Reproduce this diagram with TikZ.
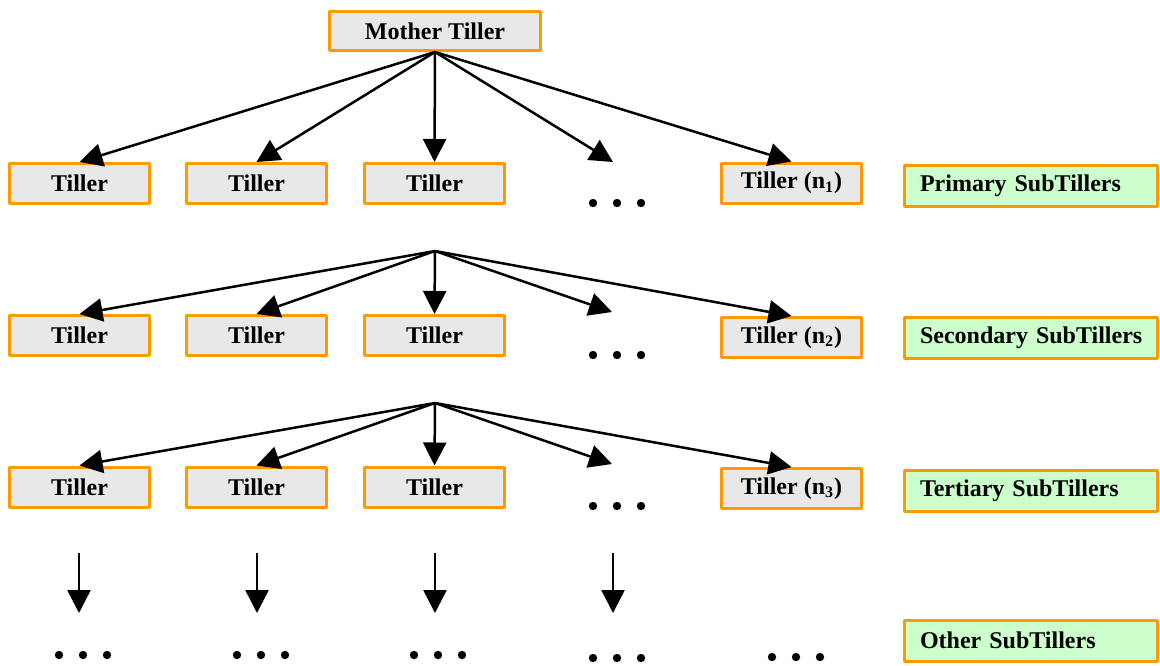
\documentclass[tikz,border=0pt]{standalone}
\usepackage{fontspec}
\setmainfont{Liberation Serif}
\usetikzlibrary{arrows.meta}

\definecolor{tilorange}{HTML}{FF9900}
\definecolor{tilgray}{HTML}{E8E8E8}
\definecolor{tilgreen}{HTML}{CCFFCC}

\tikzset{
	tiller/.style={draw=tilorange, line width=1.5pt, fill=tilgray, minimum width=70pt, minimum height=20pt, inner sep=0pt},
	level/.style={draw=tilorange, line width=1.5pt, fill=tilgreen, text width=111pt, align=left, inner xsep=7.75pt, inner ysep=0pt, minimum height=20.5pt},
	branch/.style={->, line width=1.25pt}
}

\begin{document}
\begin{tikzpicture}[x=0.5pt, y=-0.5pt, >={Triangle[length=11.5pt,width=11.5pt]}, line join=round, font=\bfseries\fontsize{12}{14}\selectfont]
	\useasboundingbox (0,0) rectangle (1160,665);
	
	% MOTHER TILLER
	\node[tiller, minimum width=105.5pt, minimum height=19.5pt] (mt) at (435,31) {Mother Tiller};
	
	% PRIMARY
	\node[tiller] (t11) at (79.5,183.5) {Tiller};
	\node[tiller] (t12) at (256.5,183.5) {Tiller};
	\node[tiller] (t13) at (434.5,183.5) {Tiller};
	\coordinate (p14) at (613,162);
	\node[tiller] (t15) at (791.5,183) {Tiller (n\textsubscript{1})};
	\node[level] (l1) at (1031,186) {\mbox{Primary SubTillers}};
	\foreach \t in {t11,t12,t13,t15}
		\draw[branch] (mt.south) -- (\t.north);
	\draw[branch] (mt.south) -- (p14);
	
	% SECONDARY
	\coordinate (hub2) at (435,251);
	\node[tiller] (t21) at (79.5,335.5) {Tiller};
	\node[tiller] (t22) at (256.5,335.5) {Tiller};
	\node[tiller] (t23) at (434.5,335.5) {Tiller};
	\coordinate (p24) at (612,312);
	\node[tiller] (t25) at (791.5,337.5) {Tiller (n\textsubscript{2})};
	\node[level] (l2) at (1031,338) {\mbox{Secondary SubTillers}};
	\foreach \t in {t21,t22,t23,t25}
		\draw[branch] (hub2) -- (\t.north);
	\draw[branch] (hub2) -- (p24);
	
	% TERTIARY
	\coordinate (hub3) at (435,403);
	\node[tiller] (t31) at (79.5,487) {Tiller};
	\node[tiller] (t32) at (256.5,487) {Tiller};
	\node[tiller] (t33) at (434.5,487) {Tiller};
	\coordinate (p34) at (612,464);
	\node[tiller] (t35) at (791.5,488.5) {Tiller (n\textsubscript{3})};
	\node[level] (l3) at (1031,490.5) {\mbox{Tertiary SubTillers}};
	\foreach \t in {t31,t32,t33,t35}
		\draw[branch] (hub3) -- (\t.north);
	\draw[branch] (hub3) -- (p34);
	
	% OTHER
	\foreach \x [count=\i] in {79,257,435,613} {
		\coordinate (s4\i) at (\x,553);
		\coordinate (e4\i) at (\x,613);
		\draw[branch] (s4\i) -- (e4\i);
	}
	\node[level] (l4) at (1031,640.5) {\mbox{Other SubTillers}};
	
	% dots
	\foreach \x/\y in {617/203, 617/355, 617/506, 83/655, 261/655, 438/655, 617/658, 796/657}
		\foreach \dx in {-24,0,24}
			\fill (\x+\dx,\y) circle (2.1pt);
\end{tikzpicture}
\end{document}
